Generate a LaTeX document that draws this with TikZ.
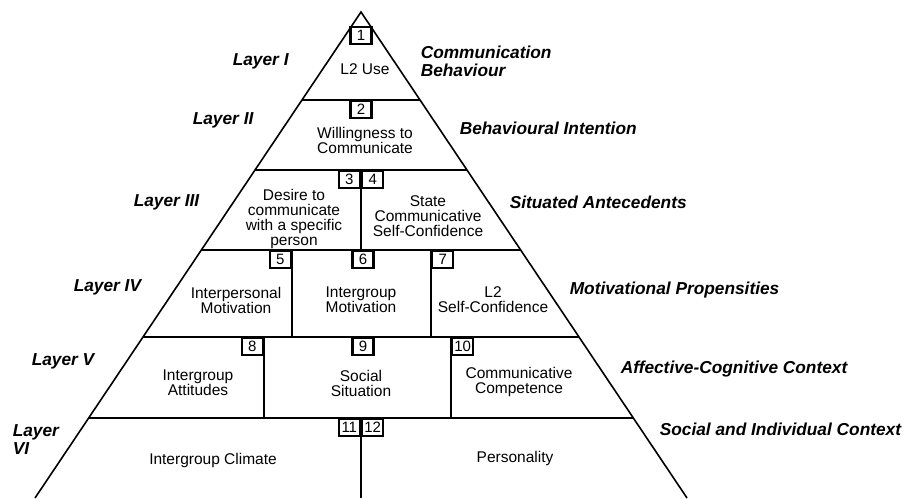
\documentclass[tikz,border=0pt]{standalone}
\usepackage{fontspec}
\setmainfont{Liberation Sans}
\usetikzlibrary{calc}

\begin{document}
\begin{tikzpicture}[x=1pt, y=-1pt, line width=1.6pt,
	 every node/.style={align=center, font=\fontsize{15.5}{15}\selectfont}]

	 % style of the number boxes and side labels
	 \tikzstyle{numbox}=[draw, line width=2.4pt, minimum width=21pt, minimum height=17pt, inner sep=0pt, font=\fontsize{15}{15}\selectfont]
	 \tikzstyle{side}=[font=\fontsize{17.3}{18}\selectfont\bfseries\itshape, align=left, anchor=west, inner sep=0pt]

	 \useasboundingbox (0,0) rectangle (904,498);

	 % outline and layer lines
	 \coordinate (apex) at (361,12);
	 \coordinate (bl) at (35,498);
	 \coordinate (br) at (687,498);
	 \draw (bl) -- (apex) -- (br);
	 \foreach \n/\f in {1/0.1811, 2/0.3251, 3/0.4897, 4/0.6687, 5/0.8354}{
	   \coordinate (l\n) at ($(apex)!\f!(bl)$);
	   \coordinate (r\n) at ($(apex)!\f!(br)$);
	   \draw (l\n) -- (r\n);
	 }

	 % dividers
	 \draw (361,170) -- (361,250);
	 \draw (292,250) -- (292,337);
	 \draw (431,250) -- (431,337);
	 \draw (264,337) -- (264,418);
	 \draw (451,337) -- (451,418);
	 \draw (361,418) -- (361,498);

	 % numbers
	 \node [numbox, anchor=north] (n1) at (361,26) {1};
	 \node [numbox, anchor=north] (n2) at (361,100) {2};
	 \node [numbox, anchor=north east] (n3) at (361,170) {3};
	 \node [numbox, anchor=north west] (n4) at (361,170) {4};
	 \node [numbox, anchor=north east] (n5) at (292,250) {5};
	 \node [numbox, anchor=north] (n6) at (363,250) {6};
	 \node [numbox, anchor=north west] (n7) at (431,250) {7};
	 \node [numbox, anchor=north east] (n8) at (264,337) {8};
	 \node [numbox, anchor=north] (n9) at (363,337) {9};
	 \node [numbox, anchor=north west] (n10) at (451,337) {10};
	 \node [numbox, anchor=north east] (n11) at (361,418) {11};
	 \node [numbox, anchor=north west] (n12) at (361,418) {12};

	 % cells
	 \node (use) at (365,69) {L2 Use};
	 \node (wtc) at (365,140) {Willingness to\\Communicate};
	 \node (desire) at (294,219) {Desire to\\communicate\\with a specific\\person};
	 \node (scc) at (428,216) {State\\Communicative\\Self-Confidence};
	 \node (interp) at (236,300) {Interpersonal\\Motivation};
	 \node (intergm) at (361,300) {Intergroup\\Motivation};
	 \node (l2sc) at (493,300) {L2\\Self-Confidence};
	 \node (attit) at (198,383) {Intergroup\\Attitudes};
	 \node (social) at (361,383) {Social\\Situation};
	 \node (compet) at (519,382) {Communicative\\Competence};
	 \node (climate) at (213,460) {Intergroup Climate};
	 \node (person) at (515,458) {Personality};

	 % layers
	 \node [side] (lay1) at (232,61) {Layer I};
	 \node [side] (lay2) at (192,120) {Layer II};
	 \node [side] (lay3) at (133,202) {Layer III};
	 \node [side] (lay4) at (73,287) {Layer IV};
	 \node [side] (lay5) at (31,361) {Layer V};
	 \node [side] (lay6) at (12,440) {Layer\\VI};

	 % layer names
	 \node [side] (comm) at (420,61) {Communication\\Behaviour};
	 \node [side] (intent) at (459,128) {Behavioural Intention};
	 \node [side] (situ) at (509,202) {Situated Antecedents};
	 \node [side] (motiv) at (569,290) {Motivational Propensities};
	 \node [side] (affect) at (620,369) {Affective-Cognitive Context};
	 \node [side] (socind) at (659,429) {Social and Individual Context};

\end{tikzpicture}
\end{document}
